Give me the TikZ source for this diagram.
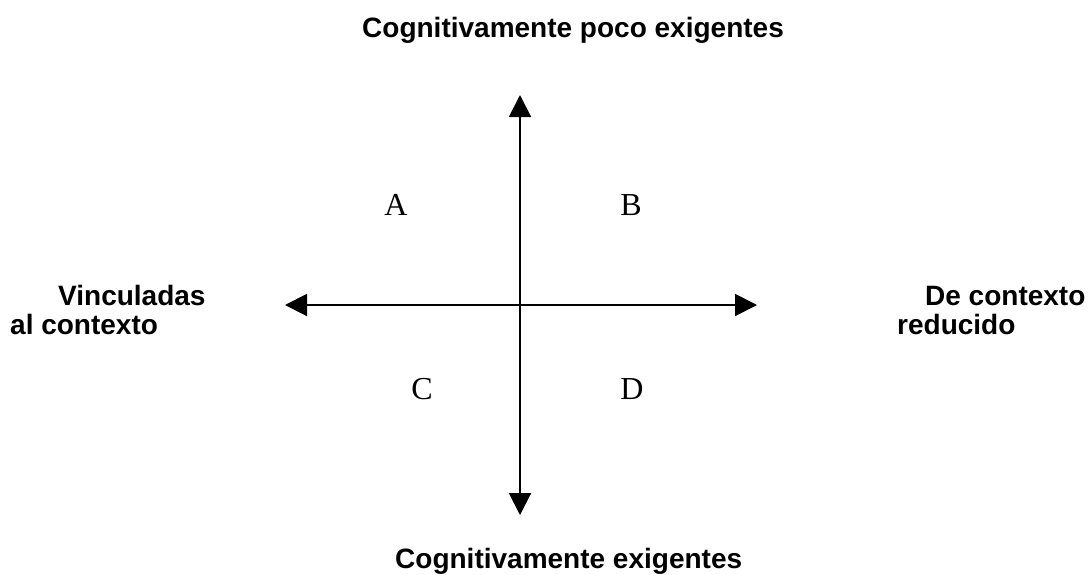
\documentclass[tikz,border=0pt]{standalone}
\usepackage{fontspec}
\setmainfont{Liberation Serif}
\setsansfont{Liberation Sans}
\usetikzlibrary{positioning,arrows.meta}
\tikzstyle{axis} = [line width=2pt,-{Triangle[length=22pt,width=22pt]}]
\tikzstyle{tLabel} = [font=\sffamily\bfseries\fontsize{28}{30}\selectfont, inner sep=0pt, anchor=base west]
\tikzstyle{tQuad} = [font=\fontsize{32}{34}\selectfont, inner sep=0pt]

\begin{document}
\begin{tikzpicture}[x=1pt,y=-1pt]
        \useasboundingbox (0,0) rectangle (1090,574);
        \coordinate (Centre) at (520,305);
        \coordinate (Top) at (520,95);
        \coordinate (Bottom) at (520,515);
        \coordinate (Left) at (285,305);
        \coordinate (Right) at (757,305);
        \draw[axis] (Centre) -- (Top);
        \draw[axis] (Centre) -- (Bottom);
        \draw[axis] (Centre) -- (Left);
        \draw[axis] (Centre) -- (Right);
        \node[tLabel] (PocoExig) at (362,37) {Cognitivamente poco exigentes};
        \node[tLabel] (Exig) at (395,568) {Cognitivamente exigentes};
        \node[tLabel] (Vinc) at (58,305) {Vinculadas};
        \node[tLabel] (AlCont) at (10,334) {al contexto};
        \node[tLabel] (DeCont) at (925,305) {De contexto};
        \node[tLabel] (Reduc) at (897,334) {reducido};
        \node[tQuad] (QuadA) at (396,205) {A};
        \node[tQuad] (QuadB) at (631,205) {B};
        \node[tQuad] (QuadC) at (422,389) {C};
        \node[tQuad] (QuadD) at (632,389) {D};
    \end{tikzpicture}
\end{document}
